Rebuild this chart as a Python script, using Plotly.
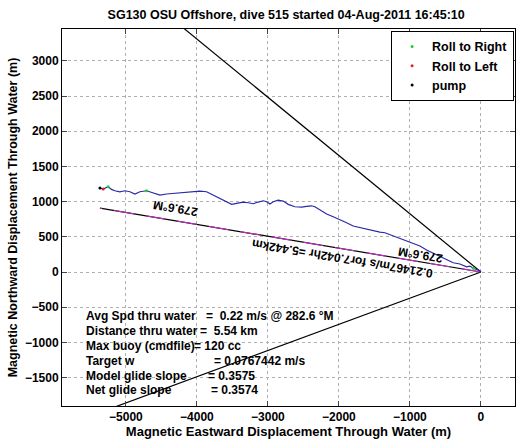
import numpy as np
import plotly.graph_objects as go

# ---------------- data ----------------
track_east = [-5366, -5320, -5250, -5202, -5155, -5085, -5014, -4944, -4873, -4803,
              -4709, -4616, -4521, -4427, -4334, -4193, -4075, -3958, -3864, -3771,
              -3676, -3582, -3511, -3441, -3348, -3278, -3207, -3137, -3066, -3018,
              -2972, -2925, -2855, -2785, -2714, -2620, -2525, -2455, -2385, -2338,
              -2268, -2173, -2080, -1986, -1892, -1799, -1704, -1610, -1517, -1423,
              -1352, -1306, -1235, -1141, -1047, -954, -859, -765, -672, -577,
              -483, -390, -296, -201, -155, -108, -14, 0]
track_north = [1193, 1179, 1211, 1174, 1154, 1140, 1154, 1140, 1108, 1140,
               1154, 1126, 1093, 1108, 1118, 1126, 1136, 1150, 1140, 1093,
               1047, 998, 961, 976, 994, 984, 970, 994, 1012, 998,
               966, 998, 1022, 1008, 961, 927, 923, 933, 941, 927,
               880, 824, 785, 748, 700, 653, 629, 611, 586, 568,
               558, 540, 511, 479, 444, 408, 369, 312, 266, 217,
               170, 132, 114, 75, 85, 53, 18, 0]

roll_right_east = [-5250, -4709, -108]
roll_right_north = [1211, 1154, 53]
roll_left_east = [-5320]
roll_left_north = [1179]
pump_east = [-5366]
pump_north = [1193]

heading_deg = 279.6          # net heading (deg magnetic)
cone_half_deg = 30.0         # half width of heading cone
cone_len_m = 9000.0
net_speed = 0.21467          # m/s
net_hours = 7.042
net_dist_m = 5442.0

title_text = "SG130 OSU Offshore, dive 515 started 04-Aug-2011 16:45:10"
xlabel = "Magnetic Eastward Displacement Through Water (m)"
ylabel = "Magnetic Northward Displacement Through Water (m)"
x_ticks = [-5000, -4000, -3000, -2000, -1000, 0]
y_ticks = [-1500, -1000, -500, 0, 500, 1000, 1500, 2000, 2500, 3000]

stat_labels = ["Avg Spd thru water", "Distance thru water", "Max buoy (cmdfile)",
               "Target w", "Model glide slope", "Net glide slope"]
stat_values = ["=\u00a0\u00a00.22 m/s @ 282.6 \u00b0M", "=\u00a0\u00a05.54 km", "= 120 cc",
               "= 0.0767442 m/s", "= 0.3575", "= 0.3574"]

# ---------------- figure ----------------
FONT = "Liberation Sans"
B = lambda s: f"<b>{s}</b>"
fig = go.Figure()

h = np.deg2rad(heading_deg)
for b in (heading_deg + cone_half_deg, heading_deg - cone_half_deg):
    r = np.deg2rad(b)
    fig.add_trace(go.Scatter(x=[0, cone_len_m * np.sin(r)], y=[0, cone_len_m * np.cos(r)],
                             mode="lines", line=dict(color="black", width=1.2),
                             showlegend=False, hoverinfo="skip"))

end_e = net_dist_m * np.sin(h)
end_n = net_dist_m * np.cos(h)
fig.add_trace(go.Scatter(x=[0, end_e], y=[0, end_n], mode="lines",
                         line=dict(color="black", width=1.2), showlegend=False))
fig.add_trace(go.Scatter(x=[0, end_e], y=[0, end_n], mode="lines",
                         line=dict(color="#d030d0", width=1.0, dash="20px,12px"),
                         showlegend=False))

fig.add_trace(go.Scatter(x=track_east, y=track_north, mode="lines",
                         line=dict(color="#2a2aa8", width=1.2), showlegend=False))

fig.add_trace(go.Scatter(x=roll_right_east, y=roll_right_north, mode="markers",
                         marker=dict(color="#22cc22", size=3), name=B("Roll to Right")))
fig.add_trace(go.Scatter(x=roll_left_east, y=roll_left_north, mode="markers",
                         marker=dict(color="#dd2222", size=3), name=B("Roll to Left")))
fig.add_trace(go.Scatter(x=pump_east, y=pump_north, mode="markers",
                         marker=dict(color="black", size=3), name=B("pump")))

annotations = []
angle = -(180 - 9.5)
annotations.append(dict(x=-4310, y=900, text=B("279.6\u00b0M"), showarrow=False,
                        textangle=angle, font=dict(size=12)))
annotations.append(dict(x=-859, y=250, text=B("279.6\u00b0M"), showarrow=False,
                        textangle=angle, font=dict(size=12)))
annotations.append(dict(x=-1950, y=195,
                        text=B(f"{net_speed}m/s for{net_hours}hr ={net_dist_m/1000:.3f}km"),
                        showarrow=False, textangle=angle, font=dict(size=12)))

stat_y = [-625, -838, -1051, -1264, -1470, -1676]
eq_x = [-3895, -3990, -4070, -3785, -3870, -3830]
for lab, val, yy, ex in zip(stat_labels, stat_values, stat_y, eq_x):
    annotations.append(dict(x=-5590, y=yy, text=B(lab), showarrow=False, xanchor="left",
                            yanchor="middle", font=dict(size=12)))
    annotations.append(dict(x=ex, y=yy, text=B(val), showarrow=False, xanchor="left",
                            yanchor="middle", font=dict(size=12)))

fig.update_layout(
    width=527, height=442,
    margin=dict(l=62, r=12, t=29, b=36, autoexpand=False),
    paper_bgcolor="white", plot_bgcolor="white",
    font=dict(family=FONT, size=12, color="black"),
    title=dict(text=B(title_text), x=0.543, xanchor="center",
               y=1 - 15 / 442, yanchor="middle", font=dict(size=12.5)),
    showlegend=True,
    legend=dict(x=0.998, y=0.995, xanchor="right", yanchor="top",
                bgcolor="white", bordercolor="black", borderwidth=1,
                font=dict(size=12.5), itemsizing="trace", tracegroupgap=0,
                itemwidth=30),
    annotations=annotations,
)
fig.update_xaxes(range=[-5900, 480], tickvals=x_ticks,
                 ticktext=[B(str(t).replace("-", "\u2212")) for t in x_ticks],
                 ticks="inside", ticklen=5, automargin=False,
                 showline=True, linecolor="black", linewidth=1, mirror="ticks",
                 showgrid=True, gridcolor="#b0b0b0", griddash="dot", gridwidth=1,
                 zeroline=False, tickfont=dict(size=12),
                 title=dict(text=B(xlabel), font=dict(size=13), standoff=1))
fig.update_yaxes(range=[-1903, 3452], tickvals=y_ticks,
                 ticktext=[B(str(t).replace("-", "\u2212")) for t in y_ticks],
                 ticks="inside", ticklen=5, automargin=False,
                 showline=True, linecolor="black", linewidth=1, mirror="ticks",
                 showgrid=True, gridcolor="#b0b0b0", griddash="dot", gridwidth=1,
                 zeroline=False, tickfont=dict(size=12),
                 title=dict(text=B(ylabel), font=dict(size=12.5), standoff=4))

fig.write_html("out.html", config={"displayModeBar": False},
               post_script="document.body.style.margin='0';document.body.style.overflow='hidden';")
